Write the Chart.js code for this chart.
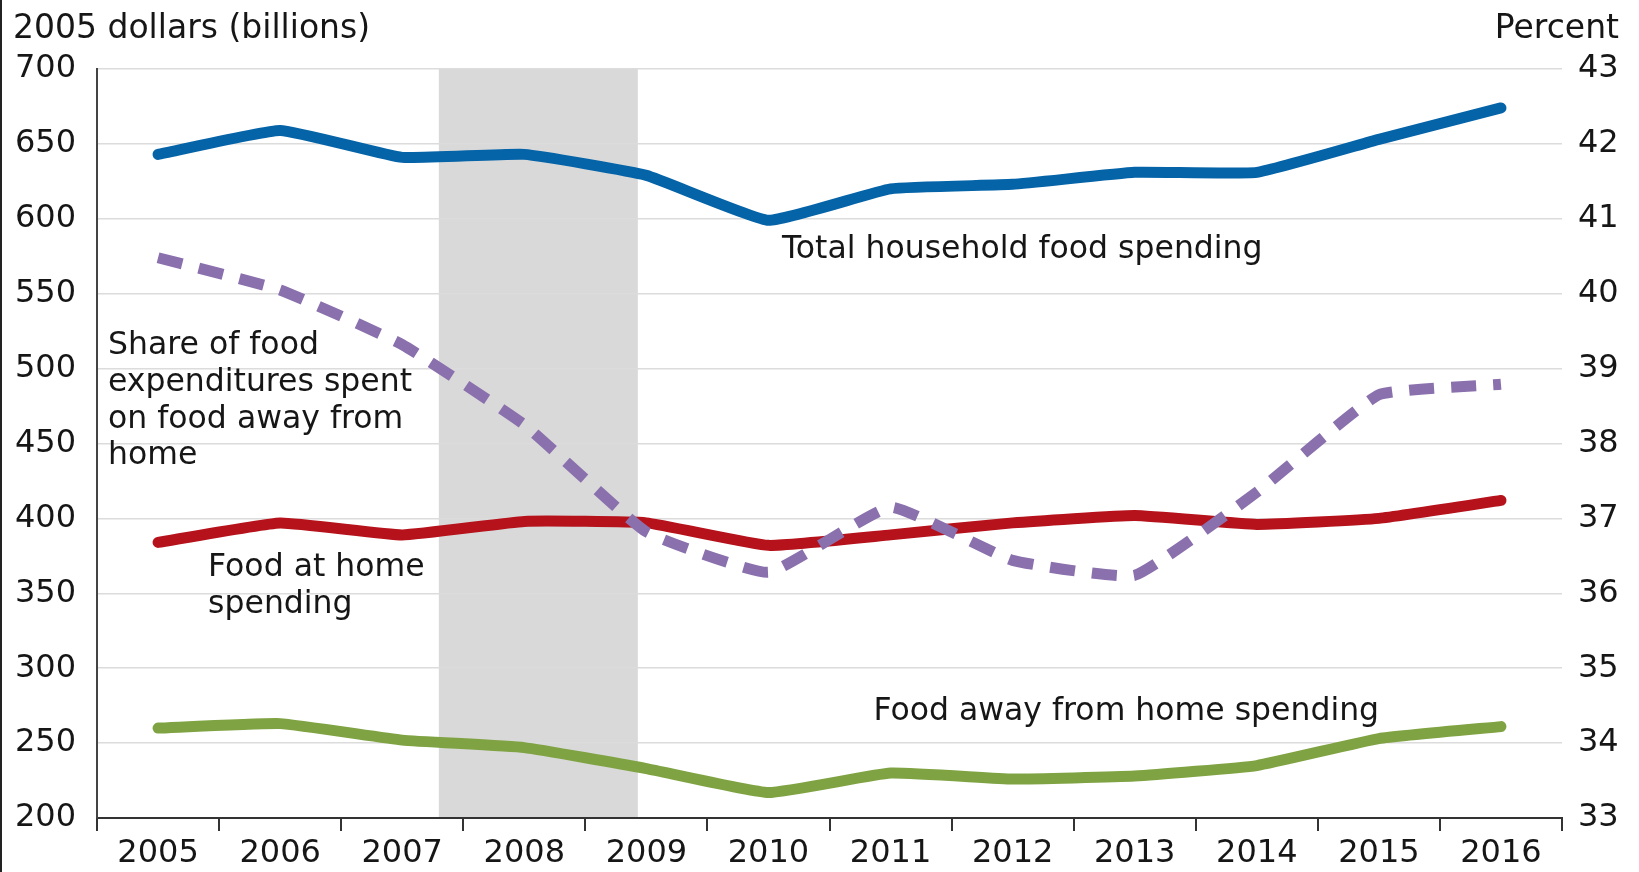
<!DOCTYPE html>
<html>
<head>
<meta charset="utf-8">
<script src="https://cdn.jsdelivr.net/npm/chart.js@4.4.1/dist/chart.umd.min.js"></script>
<style>
  html, body { margin: 0; padding: 0; background: #ffffff; }
  canvas { display: block; }
</style>
</head>
<body>
<canvas id="c" width="1639" height="872"></canvas>
<script>
// ---- data ----
const years = ['2005','2006','2007','2008','2009','2010','2011','2012','2013','2014','2015','2016'];
const totalSpending  = [643, 659, 641, 643, 629, 599, 620, 623, 631, 631, 653, 674];
const atHomeSpending = [384, 397, 389, 398, 397, 382, 389, 397, 402, 396, 400, 412];
const awaySpending   = [260, 263, 252, 247, 233, 217, 230, 226, 228, 235, 253, 261];
const awayShare      = [40.48, 40.05, 39.32, 38.25, 36.82, 36.28, 37.15, 36.44, 36.24, 37.35, 38.65, 38.79];
const recessionSpan  = [2.3, 3.93]; // in category-index units (Dec 2007 – Jun 2009)

const leftTitle = '2005 dollars (billions)';
const rightTitle = 'Percent';

const FONT = '"DejaVu Sans", "Liberation Sans", Arial, sans-serif';
const TEXT = '#161616';

const annotations = [
  { lines: ['Total household food spending'], x: 5.11, y: 579, lh: 0 },
  { lines: ['Share of food', 'expenditures spent', 'on food away from', 'home'], x: -0.41, y: 515, lh: 36.7 },
  { lines: ['Food at home', 'spending'], x: 0.41, y: 367, lh: 37 },
  { lines: ['Food away from home spending'], x: 5.86, y: 271, lh: 0 }
];

const recessionPlugin = {
  id: 'recession',
  beforeDraw(chart) {
    const { ctx, chartArea, scales } = chart;
    const x1 = scales.x.getPixelForValue(recessionSpan[0]);
    const x2 = scales.x.getPixelForValue(recessionSpan[1]);
    ctx.save();
    ctx.fillStyle = '#d9d9d9';
    ctx.fillRect(x1, chartArea.top, x2 - x1, chartArea.bottom - chartArea.top);
    ctx.restore();
  }
};

const textPlugin = {
  id: 'texts',
  afterDraw(chart) {
    const { ctx, scales } = chart;
    ctx.save();
    ctx.fillStyle = TEXT;
    ctx.textBaseline = 'middle';
    ctx.font = '33px ' + FONT;
    ctx.textAlign = 'left';
    ctx.fillText(leftTitle, 13, 29);
    ctx.textAlign = 'right';
    ctx.fillText(rightTitle, 1619, 29);
    ctx.font = '31.5px ' + FONT;
    ctx.textAlign = 'left';
    for (const a of annotations) {
      const px = scales.x.getPixelForValue(a.x);
      const py = scales.y.getPixelForValue(a.y);
      a.lines.forEach((t, i) => ctx.fillText(t, px, py + i * a.lh));
    }
    // frame line at left edge
    ctx.strokeStyle = '#222';
    ctx.lineWidth = 2;
    ctx.beginPath();
    ctx.moveTo(1, 0);
    ctx.lineTo(1, chart.height);
    ctx.stroke();
    ctx.restore();
  }
};

new Chart(document.getElementById('c'), {
  type: 'line',
  data: {
    labels: years,
    datasets: [
      {
        label: 'Share of food expenditures spent on food away from home',
        data: awayShare,
        yAxisID: 'y2',
        borderColor: '#8a70ad',
        borderWidth: 11,
        borderDash: [25, 17],
        borderCapStyle: 'butt',
        pointRadius: 0,
        tension: 0.12,
        fill: false
      },
      {
        label: 'Total household food spending',
        data: totalSpending,
        yAxisID: 'y',
        borderColor: '#0563a8',
        borderWidth: 11,
        borderCapStyle: 'round',
        borderJoinStyle: 'round',
        pointRadius: 0,
        tension: 0.12,
        fill: false
      },
      {
        label: 'Food at home spending',
        data: atHomeSpending,
        yAxisID: 'y',
        borderColor: '#b5121b',
        borderWidth: 11,
        borderCapStyle: 'round',
        borderJoinStyle: 'round',
        pointRadius: 0,
        tension: 0.12,
        fill: false
      },
      {
        label: 'Food away from home spending',
        data: awaySpending,
        yAxisID: 'y',
        borderColor: '#7fa342',
        borderWidth: 11,
        borderCapStyle: 'round',
        borderJoinStyle: 'round',
        pointRadius: 0,
        tension: 0.12,
        fill: false
      }
    ]
  },
  options: {
    responsive: false,
    devicePixelRatio: 1,
    animation: false,
    layout: { padding: { top: 69, left: 0, right: 0, bottom: 0 } },
    plugins: { legend: { display: false }, tooltip: { enabled: false } },
    scales: {
      x: {
        type: 'category',
        offset: true,
        grid: { offset: true, drawOnChartArea: false, drawTicks: true, tickLength: 13, color: '#333', lineWidth: 2 },
        border: { display: true, color: '#333', width: 2 },
        ticks: { font: { family: FONT, size: 32 }, color: TEXT, padding: 3, maxRotation: 0, autoSkip: false },
        afterFit(s) { s.height = 54; }
      },
      y: {
        position: 'left',
        min: 200, max: 700,
        ticks: { stepSize: 50, font: { family: FONT, size: 32 }, color: TEXT, padding: 21 },
        grid: {
          drawTicks: false,
          lineWidth: 1.5,
          color: (c) => (c.tick && c.tick.value === 200) ? 'rgba(0,0,0,0)' : '#dcdcdc'
        },
        border: { display: true, color: '#444', width: 2 },
        afterFit(s) { s.width = 97; }
      },
      y2: {
        position: 'right',
        min: 33, max: 43,
        ticks: { stepSize: 1, font: { family: FONT, size: 32 }, color: TEXT, padding: 16 },
        grid: { display: false, drawTicks: false },
        border: { display: false },
        afterFit(s) { s.width = 77; }
      }
    }
  },
  plugins: [recessionPlugin, textPlugin]
});
</script>
</body>
</html>
